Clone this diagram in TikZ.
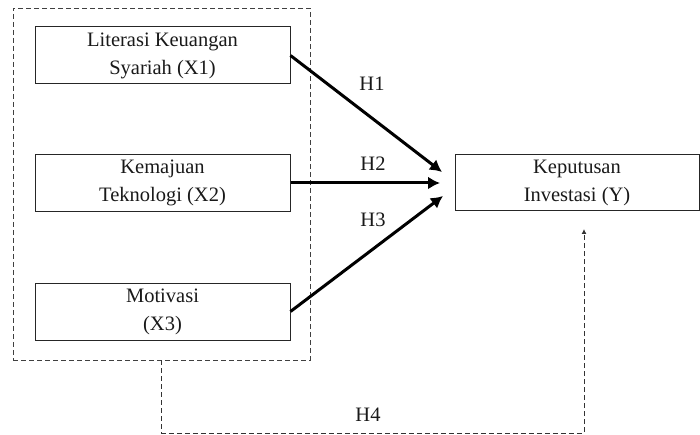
\documentclass[tikz,border=0pt]{standalone}
\usepackage{fontspec}
\setmainfont{Liberation Serif}
\usetikzlibrary{arrows.meta}
\begin{document}
\begin{tikzpicture}[x=1pt,y=-1pt,
  varbox/.style={draw=black!85, line width=1pt, minimum width=255pt, minimum height=57pt,
    align=center, inner sep=0pt, font=\fontsize{20.5}{28}\selectfont, text=black!90},
  grpbox/.style={draw=black!75, line width=0.9pt, dash pattern=on 5pt off 3pt,
    minimum width=297pt, minimum height=352pt, inner sep=0pt},
  patharrow/.style={line width=3pt, black, -{Latex[length=12pt,width=13pt]}},
  dasharrow/.style={draw=black!80, line width=0.9pt, dash pattern=on 5pt off 3pt,
    -{Latex[length=5pt,width=5pt]}},
  hlabel/.style={font=\fontsize{20.5}{24}\selectfont, text=black!90, inner sep=0pt}]
\useasboundingbox (0,0) rectangle (700,435);
\node[grpbox] (grp) at (161.5,184) {};
\node[varbox] (x1) at (162.5,55.5) {Literasi Keuangan\\Syariah (X1)};
\node[varbox] (x2) at (162.5,183) {Kemajuan\\Teknologi (X2)};
\node[varbox] (x3) at (162.5,311.5) {Motivasi\\(X3)};
\node[varbox, minimum width=244pt, minimum height=56pt] (y) at (577,183) {Keputusan\\Investasi (Y)};
\coordinate (t1) at (442,172);
\coordinate (t2) at (440,183);
\coordinate (t3) at (443,196);
\coordinate (h4end) at (584,229);
\draw[patharrow] (x1.east) -- (t1);
\draw[patharrow] (x2.east) -- (t2);
\draw[patharrow] (x3.east) -- (t3);
\draw[dasharrow] (grp.south) -- (grp.south |- 0,433) -| (h4end);
\node[hlabel] (h1) at (372,84) {H1};
\node[hlabel] (h2) at (373,164) {H2};
\node[hlabel] (h3) at (373,220) {H3};
\node[hlabel] (h4) at (368,415) {H4};
\end{tikzpicture}
\end{document}
